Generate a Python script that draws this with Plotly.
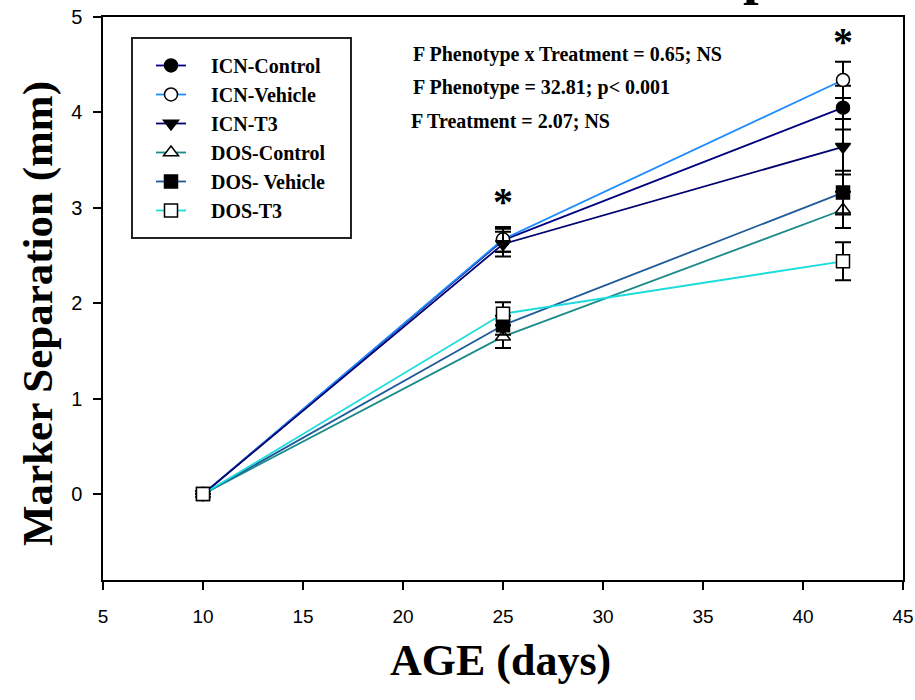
import plotly.graph_objects as go

# ---------------- data ----------------
age = [10, 25, 42]
x_ticks = [5, 10, 15, 20, 25, 30, 35, 40, 45]
y_ticks = [0, 1, 2, 3, 4, 5]

series_names = ["ICN-Control", "ICN-Vehicle", "ICN-T3",
                "DOS-Control", "DOS- Vehicle", "DOS-T3"]
icn_control = [0, 2.66, 4.05]
icn_control_err = [None, 0.12, 0.23]
icn_vehicle = [0, 2.67, 4.34]
icn_vehicle_err = [None, 0.13, 0.19]
icn_t3 = [0, 2.62, 3.64]
icn_t3_err = [None, 0.13, 0.29]
dos_control = [0, 1.65, 2.98]
dos_control_err = [None, 0.12, 0.19]
dos_vehicle = [0, 1.77, 3.16]
dos_vehicle_err = [None, 0.10, 0.23]
dos_t3 = [0, 1.89, 2.44]
dos_t3_err = [None, 0.12, 0.20]

stats_lines = ["F Phenotype x Treatment = 0.65; NS",
               "F Phenotype = 32.81; p< 0.001",
               "F Treatment = 2.07; NS"]
sig_x = [25, 42]
sig_y = [3.07, 4.74]

# ---------------- styles ----------------
values = [icn_control, icn_vehicle, icn_t3, dos_control, dos_vehicle, dos_t3]
errors = [icn_control_err, icn_vehicle_err, icn_t3_err,
          dos_control_err, dos_vehicle_err, dos_t3_err]
line_colors = ["#000080", "#1E8CFF", "#00006E", "#1A8A8A", "#1F5A99", "#1ADCDC"]
symbols = ["circle", "circle", "triangle-down", "triangle-up", "square", "square"]
fills = ["black", "white", "black", "white", "black", "white"]

SERIF = "Liberation Serif"
SANS = "Liberation Sans"
NB = "\u00a0"

fig = go.Figure()
for name, ys, err, lc, sym, fc in zip(series_names, values, errors,
                                       line_colors, symbols, fills):
    fig.add_trace(go.Scatter(
        x=age, y=ys, name=NB * 4 + name, mode="lines+markers",
        line=dict(color=lc, width=1.8),
        marker=dict(symbol=sym, size=13, color=fc,
                    line=dict(color="black", width=1.5)),
        error_y=dict(type="data", array=err, visible=True,
                     color="black", thickness=2, width=8),
    ))

# legend box
fig.add_shape(type="rect", xref="paper", yref="paper",
              x0=0.03625, x1=0.31, y0=0.6075, y1=0.9627,
              line=dict(color="#222222", width=2), fillcolor="rgba(0,0,0,0)",
              layer="above")

# stats text
stat_pos = [(0.385, 0.9334), (0.385, 0.8739), (0.3825, 0.8150)]
for txt, (px, py) in zip(stats_lines, stat_pos):
    fig.add_annotation(text=txt, xref="paper", yref="paper", x=px, y=py,
                       xanchor="left", yanchor="middle", showarrow=False,
                       font=dict(family=SERIF, size=20, color="black",
                                 weight="bold"))

# significance asterisks
for sx, sy in zip(sig_x, sig_y):
    fig.add_annotation(text="*", x=sx, y=sy, xref="x", yref="y",
                       xanchor="center", yanchor="middle", showarrow=False,
                       font=dict(family=SERIF, size=40, color="black",
                                 weight="bold"))

# axis titles
fig.add_annotation(text="Marker Separation (mm)", xref="paper", yref="paper",
                   x=-0.08125, y=0.4725, textangle=-90, showarrow=False,
                   xanchor="center", yanchor="middle",
                   font=dict(family=SERIF, size=43, color="black", weight="bold"))
fig.add_annotation(text="AGE (days)", xref="paper", yref="paper",
                   x=0.49625, y=-0.1421, showarrow=False,
                   xanchor="center", yanchor="middle",
                   font=dict(family=SERIF, size=44, color="black", weight="bold"))

# clipped title fragment at page top
fig.add_annotation(text="p", xref="paper", yref="paper",
                   x=(741 - 103) / 800, y=1.0764, showarrow=False,
                   xanchor="left", yanchor="middle",
                   font=dict(family=SERIF, size=56, color="black", weight="bold"))

fig.update_layout(
    width=915, height=700,
    margin=dict(l=103, r=12, t=17, b=120, autoexpand=False),
    paper_bgcolor="white", plot_bgcolor="white",
    showlegend=True,
    legend=dict(x=0.06, y=0.9485, xanchor="left", yanchor="top",
                bgcolor="rgba(0,0,0,0)", borderwidth=0,
                font=dict(family=SERIF, size=20, color="black", weight="bold"),
                itemclick=False),
    xaxis=dict(range=[5, 45], tickvals=x_ticks, ticks="outside", ticklen=8,
               tickwidth=1.5, tickcolor="black", showline=True,
               linecolor="black", linewidth=1.5, mirror=True,
               showgrid=False, zeroline=False, ticklabelstandoff=10,
               automargin=False,
               tickfont=dict(family=SANS, size=19, color="black")),
    yaxis=dict(range=[-0.9, 5], tickvals=y_ticks, ticks="outside", ticklen=8,
               tickwidth=1.5, tickcolor="black", showline=True,
               linecolor="black", linewidth=1.5, mirror=True,
               showgrid=False, zeroline=False, ticklabelstandoff=7,
               automargin=False,
               tickfont=dict(family=SANS, size=20, color="black")),
)

fig.write_html("out.html",
               config={"displayModeBar": False},
               post_script="document.body.style.margin='0px';")
